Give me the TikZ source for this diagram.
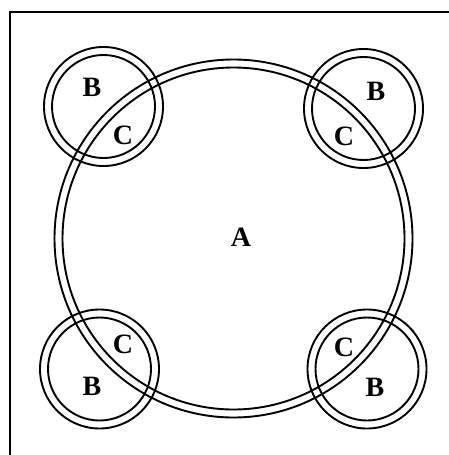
\documentclass[tikz,border=0pt]{standalone}
\usepackage{fontspec}
\setmainfont{Liberation Serif}
\usetikzlibrary{positioning}

\begin{document}
\begin{tikzpicture}[
        x=1pt, y=-1pt,
        ring/.style={draw=black, line width=1.9pt},
        frame/.style={draw=black, line width=1.9pt},
        lbl/.style={font=\bfseries\fontsize{28}{28}\selectfont, inner sep=0pt}
        ]
        \useasboundingbox (0,0) rectangle (449,455);

        % open frame: left and top edges only
        \draw[frame] (10,455) -- (10,12) -- (449,12);

        % centres of the rings
        \coordinate (cA) at (233.5,238.5);
        \coordinate (cTL) at (103.5,106.5);
        \coordinate (cTR) at (363.5,108.5);
        \coordinate (cBL) at (99.5,369);
        \coordinate (cBR) at (367,369);

        % big double ring A
        \draw[ring] (cA) circle (179pt);
        \draw[ring] (cA) circle (171pt);

        % four small double rings B
        \foreach \c in {cTL,cTR,cBL,cBR} {
            \draw[ring] (\c) circle (59.5pt);
            \draw[ring] (\c) circle (51.5pt);
        }

        % labels
        \node[lbl] (labA) at (241,237) {A};
        \node[lbl] (labBtl) at (92,87) {B};
        \node[lbl] (labCtl) at (123,135) {C};
        \node[lbl] (labBtr) at (376,91) {B};
        \node[lbl] (labCtr) at (344,136) {C};
        \node[lbl] (labCbl) at (123,344) {C};
        \node[lbl] (labBbl) at (92,386) {B};
        \node[lbl] (labCbr) at (344,347) {C};
        \node[lbl] (labBbr) at (375,387) {B};
    \end{tikzpicture}
\end{document}
